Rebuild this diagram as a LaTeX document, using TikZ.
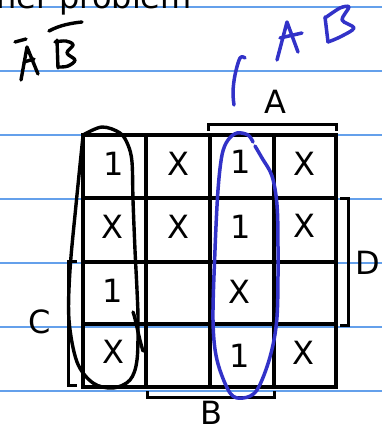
\documentclass[tikz,border=0pt]{standalone}
\usepackage{fontspec}
\setmainfont{DejaVu Sans}
\definecolor{rule}{RGB}{100,160,235}
\definecolor{pen}{RGB}{50,50,200}
\tikzset{
  ruled/.style={rule, line width=1.4pt},
  gridline/.style={line width=3.4pt},
  bracketline/.style={line width=3pt, line cap=butt},
  cell/.style={font=\fontsize{32}{32}\selectfont, inner sep=0pt},
  lab/.style={font=\fontsize{32}{32}\selectfont, inner sep=0pt},
  ink/.style={line width=3.4pt, line cap=round, line join=round},
  blueink/.style={pen, line width=3.5pt, line cap=round, line join=round}
}
\begin{document}
\begin{tikzpicture}[x=1pt,y=-1pt]
\useasboundingbox (0,0) rectangle (382,429);
\clip (0,0) rectangle (382,429);
% ruled paper lines
\foreach \yy in {7,71,135,199,263,327,391}
  \draw[ruled] (0,\yy) -- (382,\yy);
% partial heading
\node[lab, anchor=base east] (head) at (192,8) {ner problem};
% grid
\foreach \yy in {198,262,324}
  \draw[gridline] (83,\yy) -- (336,\yy);
\foreach \xx in {146,274}
  \draw[gridline] (\xx,135) -- (\xx,387);
\draw[line width=4.6pt] (210,135) -- (210,387);
\draw[line width=3.8pt] (83,135) rectangle (336,387);
% cells
\node[cell] (c11) at (114,164) {1};
\node[cell] (c12) at (178,164) {X};
\node[cell] (c13) at (241,162) {1};
\node[cell] (c14) at (304,164) {X};
\node[cell] (c21) at (112,227) {X};
\node[cell] (c22) at (178,227) {X};
\node[cell] (c23) at (241,227) {1};
\node[cell] (c24) at (304,226) {X};
\node[cell] (c31) at (113,291) {1};
\node[cell] (c33) at (239,292) {X};
\node[cell] (c41) at (113,352) {X};
\node[cell] (c43) at (240,356) {1};
\node[cell] (c44) at (303,353) {X};
% brackets and labels
\draw[bracketline] (208,131) -- (208,124) -- (336,124) -- (336,131);
\node[lab] (labA) at (275,102) {A};
\draw[bracketline] (340,198) -- (348,198) -- (348,325) -- (340,325);
\node[lab] (labD) at (368,263) {D};
\draw[bracketline] (77,261) -- (68,261) -- (68,385) -- (77,385);
\node[lab] (labC) at (40,322) {C};
\draw[bracketline] (147,391) -- (147,397) -- (274,397) -- (274,391);
\node[lab] (labB) at (211,413) {B};
% handwritten A-bar B-bar
\draw[ink] (15,42) -- (26,39);
\draw[ink] (21,80) -- (27,47) -- (38,74);
\draw[ink] (24,62) -- (34,59);
\draw[ink] (49,31) .. controls (60,25) and (72,23) .. (82,22);
\draw[ink] (57,40) -- (58,68);
\draw[ink] plot[smooth, tension=0.6] coordinates {(55,42) (66,41) (73,45) (67,53) (75,60) (68,66) (59,67)};
% black loop
\draw[ink] plot[smooth, tension=0.55] coordinates {
 (83,135) (102,127) (120,133) (128,145) (132,162) (133,200) (135,250)
 (137,290) (138,320) (137,360) (130,380) (113,388) (93,383) (77,362)
 (69,320) (70,270) (76,205) (83,136)};
\draw[ink] (133,312) .. controls (136,320) and (138,335) .. (143,351);
% blue handwriting
\draw[blueink] plot[smooth, tension=0.6] coordinates {(245,58) (240,58) (235,75) (233,92) (234,105)};
\draw[blueink] (277,60) -- (287,22) -- (298,52);
\draw[blueink] (280,38) -- (302,33);
\draw[blueink] (325,17) -- (328,42);
\draw[blueink] plot[smooth, tension=0.5] coordinates {(325,18) (340,8) (349,7) (342,20) (354,28) (340,37) (328,42)};
% blue loop
\draw[blueink] plot[smooth, tension=0.55] coordinates {
 (253,142) (248,135) (237,133) (228,140) (222,155) (218,190) (215,250)
 (213,320) (217,360) (230,393) (243,398) (257,390) (270,357) (277,317)
 (278,250) (277,205) (272,176) (262,158) (255,146)};
\end{tikzpicture}
\end{document}
